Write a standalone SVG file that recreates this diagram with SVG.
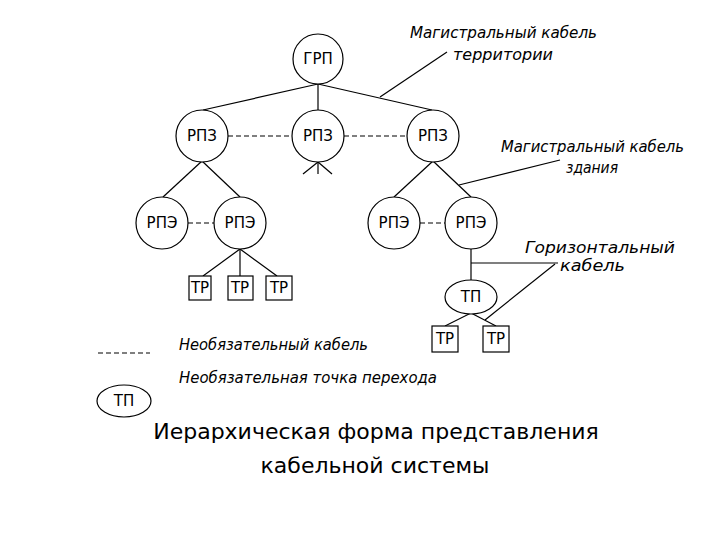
<svg xmlns="http://www.w3.org/2000/svg" width="720" height="540" viewBox="0 0 720 540">
<style>
.n{fill:#fff;stroke:#000;stroke-width:1.2}
.t{font-family:"DejaVu Sans","Liberation Sans",sans-serif;font-size:15px;text-anchor:middle;fill:#000}
.i{font-family:"DejaVu Sans","Liberation Sans",sans-serif;font-size:15px;font-style:oblique;fill:#000}
.c line{stroke:#000;stroke-width:1.2;fill:none}
.c .d{stroke-dasharray:5 3}
.ti{font-family:"DejaVu Sans","Liberation Sans",sans-serif;font-size:22px;text-anchor:middle;fill:#000}
</style>
<rect width="720" height="540" fill="#fff"/>
<g class="c" id="connectors">
<line x1="318" y1="84" x2="203" y2="110"/>
<line x1="318" y1="84" x2="318" y2="110"/>
<line x1="318" y1="84" x2="432" y2="110"/>
<line class="d" x1="228" y1="136" x2="292" y2="136"/>
<line class="d" x1="344" y1="136" x2="407" y2="136"/>
<line x1="318" y1="162" x2="303" y2="174"/>
<line x1="318" y1="162" x2="318" y2="174"/>
<line x1="318" y1="162" x2="332" y2="174"/>
<line x1="202" y1="161" x2="163" y2="197"/>
<line x1="202" y1="161" x2="240" y2="197"/>
<line x1="433" y1="161" x2="394" y2="197"/>
<line x1="433" y1="161" x2="471" y2="197"/>
<line class="d" x1="188" y1="223" x2="214" y2="223"/>
<line class="d" x1="420" y1="223" x2="445" y2="223"/>
<line x1="240" y1="249" x2="203" y2="276"/>
<line x1="240" y1="249" x2="240" y2="276"/>
<line x1="240" y1="249" x2="277" y2="276"/>
<line x1="471" y1="249" x2="471" y2="280"/>
<line x1="471" y1="263" x2="558" y2="263"/>
<line x1="471" y1="313" x2="445" y2="326"/>
<line x1="471" y1="313" x2="496" y2="326"/>
<line x1="447" y1="52" x2="380" y2="97"/>
<line x1="560" y1="160" x2="459" y2="185"/>
<line x1="555" y1="264" x2="485" y2="320"/>
<line class="d" x1="98" y1="353" x2="150" y2="353"/>
</g>
<g id="grp"><circle class="n" cx="318" cy="59" r="25"/><text class="t" x="318" y="64">ГРП</text></g>
<g id="rpz1"><circle class="n" cx="202" cy="136" r="26"/><text class="t" x="202" y="141">РПЗ</text></g>
<g id="rpz2"><circle class="n" cx="318" cy="136" r="26"/><text class="t" x="318" y="141">РПЗ</text></g>
<g id="rpz3"><circle class="n" cx="433" cy="136" r="26"/><text class="t" x="433" y="141">РПЗ</text></g>
<g id="rpe1"><circle class="n" cx="162" cy="223" r="26"/><text class="t" x="162" y="228">РПЭ</text></g>
<g id="rpe2"><circle class="n" cx="240" cy="223" r="26"/><text class="t" x="240" y="228">РПЭ</text></g>
<g id="rpe3"><circle class="n" cx="394" cy="223" r="26"/><text class="t" x="394" y="228">РПЭ</text></g>
<g id="rpe4"><circle class="n" cx="471" cy="223" r="26"/><text class="t" x="471" y="228">РПЭ</text></g>
<g id="tr1"><rect class="n" x="189" y="276" width="22" height="24"/><text class="t" x="200" y="293">ТР</text></g>
<g id="tr2"><rect class="n" x="228" y="276" width="25" height="24"/><text class="t" x="240" y="293">ТР</text></g>
<g id="tr3"><rect class="n" x="266" y="276" width="26" height="24"/><text class="t" x="279" y="293">ТР</text></g>
<g id="tp"><ellipse class="n" cx="471" cy="297" rx="26" ry="17"/><text class="t" x="471" y="302">ТП</text></g>
<g id="tr4"><rect class="n" x="432" y="326" width="26" height="26"/><text class="t" x="445" y="344">ТР</text></g>
<g id="tr5"><rect class="n" x="483" y="326" width="26" height="26"/><text class="t" x="496" y="344">ТР</text></g>
<g id="legend-tp"><ellipse class="n" cx="124" cy="401" rx="27" ry="16"/><text class="t" x="124" y="406">ТП</text></g>
<g id="labels">
<text class="i" x="410" y="38" textLength="187" lengthAdjust="spacingAndGlyphs">Магистральный кабель</text>
<text class="i" x="453" y="60" textLength="100" lengthAdjust="spacingAndGlyphs">территории</text>
<text class="i" x="501" y="152" textLength="183" lengthAdjust="spacingAndGlyphs">Магистральный кабель</text>
<text class="i" x="566" y="173" textLength="52" lengthAdjust="spacingAndGlyphs">здания</text>
<text class="i" x="525" y="253" textLength="150" lengthAdjust="spacingAndGlyphs">Горизонтальный</text>
<text class="i" x="560" y="271" textLength="65" lengthAdjust="spacingAndGlyphs">кабель</text>
<text class="i" x="179" y="350" textLength="189" lengthAdjust="spacingAndGlyphs">Необязательный кабель</text>
<text class="i" x="179" y="383" textLength="258" lengthAdjust="spacingAndGlyphs">Необязательная точка перехода</text>
<text class="ti" x="376" y="439">Иерархическая форма представления</text>
<text class="ti" x="375" y="473">кабельной системы</text>
</g>
</svg>
